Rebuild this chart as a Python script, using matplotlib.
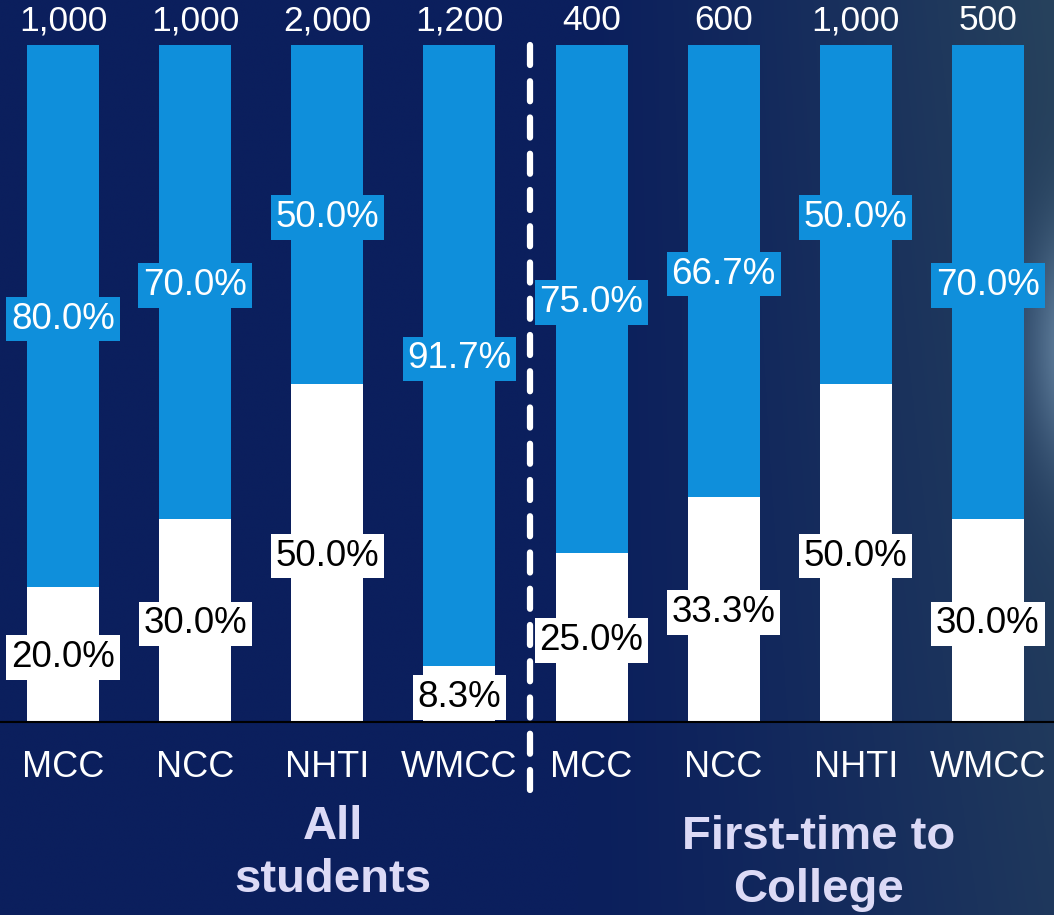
import numpy as np
import matplotlib.pyplot as plt
from matplotlib.colors import to_rgb

plt.rcParams['font.family'] = ['Liberation Sans', 'DejaVu Sans']

categories = ["MCC", "NCC", "NHTI", "WMCC", "MCC", "NCC", "NHTI", "WMCC"]
totals = ["1,000", "1,000", "2,000", "1,200", "400", "600", "1,000", "500"]
white_pct = [20.0, 30.0, 50.0, 8.3, 25.0, 33.3, 50.0, 30.0]
blue_pct = [80.0, 70.0, 50.0, 91.7, 75.0, 66.7, 50.0, 70.0]
groups = ["All\nstudents", "First-time to\nCollege"]

fig = plt.figure(figsize=(10.54, 9.15), dpi=100)

# background gradient
bg = fig.add_axes([0, 0, 1, 1], zorder=-1)
w, h = 400, 350
xs = np.linspace(0, 1, w)
ys = np.linspace(0, 1, h)
X, Y = np.meshgrid(xs, ys)
navy = np.array(to_rgb("#0b1f5d"))
teal = np.array(to_rgb("#27425c"))
t = np.clip((X - 0.55) / 0.45, 0, 1) ** 1.2
t = t * (1 - 0.3 * Y)
img = navy * (1 - t[..., None]) + teal * t[..., None]
glow = np.exp(-(((X - 1.03) / 0.05) ** 2 + ((Y - 0.38) / 0.13) ** 2))
img = img + glow[..., None] * np.array([0.28, 0.30, 0.30])
bg.imshow(np.clip(img, 0, 1), aspect="auto", extent=(0, 1, 1, 0))
bg.axis("off")

ax = fig.add_axes([0, 1 - 722 / 915, 1, 677 / 915])
ax.set_facecolor("none")
x = np.arange(len(categories))
bw = 0.545
blue = "#0f8fdb"

ax.bar(x, white_pct, bw, color="white")
ax.bar(x, blue_pct, bw, bottom=white_pct, color=blue)

for xi, wp, bp, tot in zip(x, white_pct, blue_pct, totals):
    ax.text(xi, wp / 2 - 0.5, f"{wp:.1f}%", ha="center", va="center", fontsize=26.5,
            color="black", bbox=dict(facecolor="white", edgecolor="none", pad=3.5))
    ax.text(xi, wp + bp / 2 - 0.5, f"{bp:.1f}%", ha="center", va="center", fontsize=26.5,
            color="white", bbox=dict(facecolor=blue, edgecolor="none", pad=3.5))
    ax.text(xi, 103.6, tot, ha="center", va="center", fontsize=25.5,
            color="white", clip_on=False)

ax.set_xlim(-0.477, 7.5)
ax.set_ylim(0, 100)
ax.set_xticks(x)
ax.set_xticklabels(categories, fontsize=26, color="white")
ax.tick_params(axis="x", length=0, pad=20)
ax.set_yticks([])
for s in ["top", "left", "right"]:
    ax.spines[s].set_visible(False)
ax.spines["bottom"].set_color("black")
ax.spines["bottom"].set_linewidth(1.5)

# divider between groups
ax.plot([3.535, 3.535], [100, -10], color="white", lw=4.5,
        linestyle=(0, (3.2, 2.6)), dash_capstyle="round", clip_on=False)

ax.text(2.04, -19.4, groups[0], ha="center", va="center", fontsize=34,
        fontweight="bold", color="#dcdaf6", linespacing=1.28, clip_on=False)
ax.text(5.72, -20.9, groups[1], ha="center", va="center", fontsize=34,
        fontweight="bold", color="#dcdaf6", linespacing=1.28, clip_on=False)

fig.savefig("out.png", dpi=100)
